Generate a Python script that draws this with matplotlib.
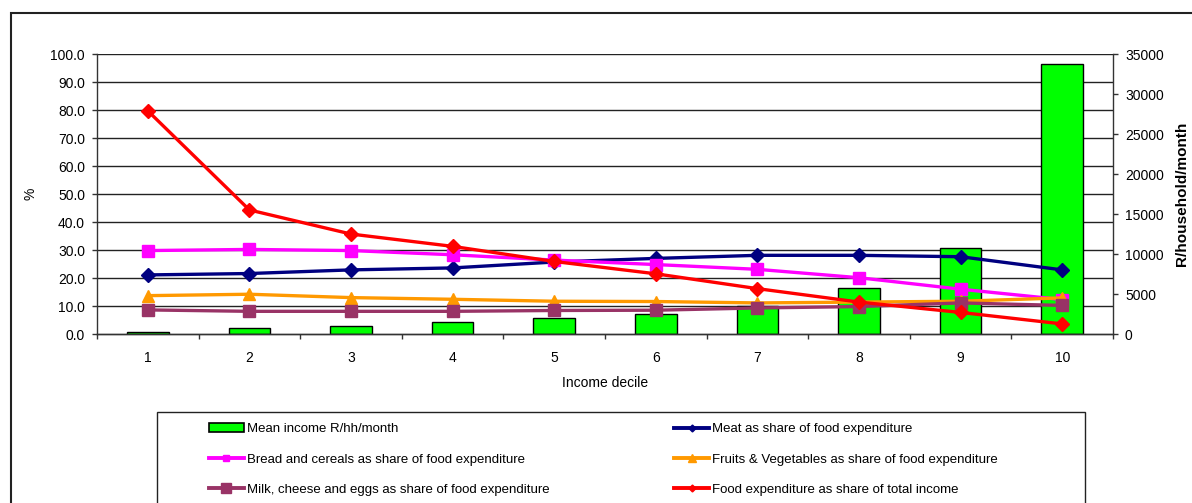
import matplotlib
matplotlib.use('Agg')
import matplotlib.pyplot as plt
from matplotlib.lines import Line2D
from matplotlib.patches import Patch, Rectangle
from matplotlib.transforms import blended_transform_factory
from matplotlib.ticker import FormatStrFormatter, FixedLocator

plt.rcParams['font.family'] = ['Liberation Sans', 'DejaVu Sans']

# ---- data ----
deciles = [1, 2, 3, 4, 5, 6, 7, 8, 9, 10]
income = [290, 790, 1050, 1500, 1950, 2550, 3540, 5730, 10710, 33750]
meat = [21.1, 21.6, 22.9, 23.6, 25.7, 27.0, 28.1, 28.1, 27.6, 22.9]
bread = [29.8, 30.2, 29.8, 28.3, 26.4, 24.8, 23.1, 20.1, 16.0, 12.3]
fruit = [13.7, 14.2, 13.0, 12.4, 11.7, 11.6, 11.1, 11.4, 11.7, 12.9]
milk = [8.6, 8.1, 8.1, 8.1, 8.4, 8.5, 9.3, 9.8, 11.1, 10.2]
food = [79.7, 44.3, 35.7, 31.3, 25.9, 21.5, 16.2, 11.4, 7.7, 3.6]

pct_ticks = [0, 10, 20, 30, 40, 50, 60, 70, 80, 90, 100]
inc_ticks = [0, 5000, 10000, 15000, 20000, 25000, 30000, 35000]

lbl_income = 'Mean income R/hh/month'
lbl_meat = 'Meat as share of food expenditure'
lbl_bread = 'Bread and cereals as share of food expenditure'
lbl_fruit = 'Fruits & Vegetables as share of food expenditure'
lbl_milk = 'Milk, cheese and eggs as share of food expenditure'
lbl_food = 'Food expenditure as share of total income'

W, H = 1192, 503
fig = plt.figure(figsize=(W / 100, H / 100), dpi=100)

ax_l, ax_r, ax_t, ax_b = 97, 1113, 54, 334
ax1 = fig.add_axes([ax_l / W, 1 - ax_b / H, (ax_r - ax_l) / W, (ax_b - ax_t) / H])
ax2 = ax1.twinx()
ax1.set_zorder(ax2.get_zorder() + 1)
ax1.patch.set_visible(False)

ax1.set_xlim(0.5, 10.5)
ax1.set_ylim(0, 100)
ax2.set_ylim(0, 35000)

# gridlines (drawn in ax2 so bars cover them)
gtr = blended_transform_factory(ax2.transAxes, ax1.transData)
for v in pct_ticks[1:]:
    ax2.plot([0, 1], [v, v], transform=gtr, color='#222222', lw=1.0, zorder=0)

ax2.bar(deciles, income, width=0.41, color='#00FF00', edgecolor='black',
        linewidth=1.0, zorder=2)

lw = 2.4
ax1.plot(deciles, meat, color='#000080', marker='D', ms=6.8, mew=1, lw=lw, zorder=3)
ax1.plot(deciles, bread, color='#FF00FF', marker='s', ms=8, mew=1, lw=lw, zorder=3)
ax1.plot(deciles, fruit, color='#FF9900', marker='^', ms=9, mew=1, lw=lw, zorder=3)
ax1.plot(deciles, milk, color='#993366', marker='s', ms=8, mew=1, lw=lw, zorder=3)
ax1.plot(deciles, food, color='#FF0000', marker='D', ms=6.8, mew=1, lw=lw, zorder=3)

# axes styling
for sp in ['top', 'right']:
    ax1.spines[sp].set_visible(False)
for sp in ['top', 'left']:
    ax2.spines[sp].set_visible(False)
for ax in (ax1, ax2):
    for sp in ax.spines.values():
        sp.set_color('#333333')
        sp.set_linewidth(1.0)

ax1.yaxis.set_major_locator(FixedLocator(pct_ticks))
ax1.yaxis.set_major_formatter(FormatStrFormatter('%.1f'))
ax2.yaxis.set_major_locator(FixedLocator(inc_ticks))
ax2.yaxis.set_major_formatter(FormatStrFormatter('%d'))
ax1.tick_params(axis='y', length=3.6, width=1, pad=5, labelsize=10, color='#333333')
ax2.tick_params(axis='y', length=3.6, width=1, pad=5, labelsize=10, color='#333333')

ax1.set_xticks(deciles)
ax1.set_xticklabels([str(d) for d in deciles])
ax1.set_xticks([d - 0.5 for d in deciles] + [10.5], minor=True)
ax1.tick_params(axis='x', which='major', length=0, pad=12, labelsize=10)
ax1.tick_params(axis='x', which='minor', length=3.6, width=1, color='#333333')

ax1.set_ylabel('%', fontsize=10)
ax1.yaxis.set_label_coords((38 - ax_l) / (ax_r - ax_l), 0.5)
ax2.set_ylabel('R/household/month', fontsize=11, fontweight='bold')
ax2.yaxis.set_label_coords((1175 - ax_l) / (ax_r - ax_l), 0.5)
ax1.set_xlabel('Income decile', fontsize=10)
ax1.xaxis.set_label_coords(0.5, (ax_b - 376) / (ax_b - ax_t))

# legend
handles = [
    Patch(facecolor='#00FF00', edgecolor='black', linewidth=1.2),
    Line2D([], [], color='#FF00FF', marker='s', ms=5, lw=2.8),
    Line2D([], [], color='#993366', marker='s', ms=6.5, lw=2.8),
    Line2D([], [], color='#000080', marker='D', ms=3.5, lw=2.8),
    Line2D([], [], color='#FF9900', marker='^', ms=5.5, lw=2.8),
    Line2D([], [], color='#FF0000', marker='D', ms=3.5, lw=2.8),
]
labels = [lbl_income, lbl_bread, lbl_milk, lbl_meat, lbl_fruit, lbl_food]
fig.legend(handles, labels, ncol=2, loc='upper left',
           bbox_to_anchor=(209 / W, 1 - 423 / H), frameon=False,
           borderpad=0, borderaxespad=0, handlelength=2.65, handletextpad=0.22,
           columnspacing=9.45, labelspacing=1.37, fontsize=9.5, numpoints=1)

# frames
fig.add_artist(Rectangle((11 / W, -0.2), 1.2, 1 - 13 / H + 0.2, transform=fig.transFigure,
                         fill=False, lw=1.5, ec='#222222'))
fig.add_artist(Rectangle((157 / W, -0.2), (1085 - 157) / W, 1 - 412 / H + 0.2,
                         transform=fig.transFigure, fill=False, lw=1.0, ec='#222222'))

fig.savefig('out.png', dpi=100)
